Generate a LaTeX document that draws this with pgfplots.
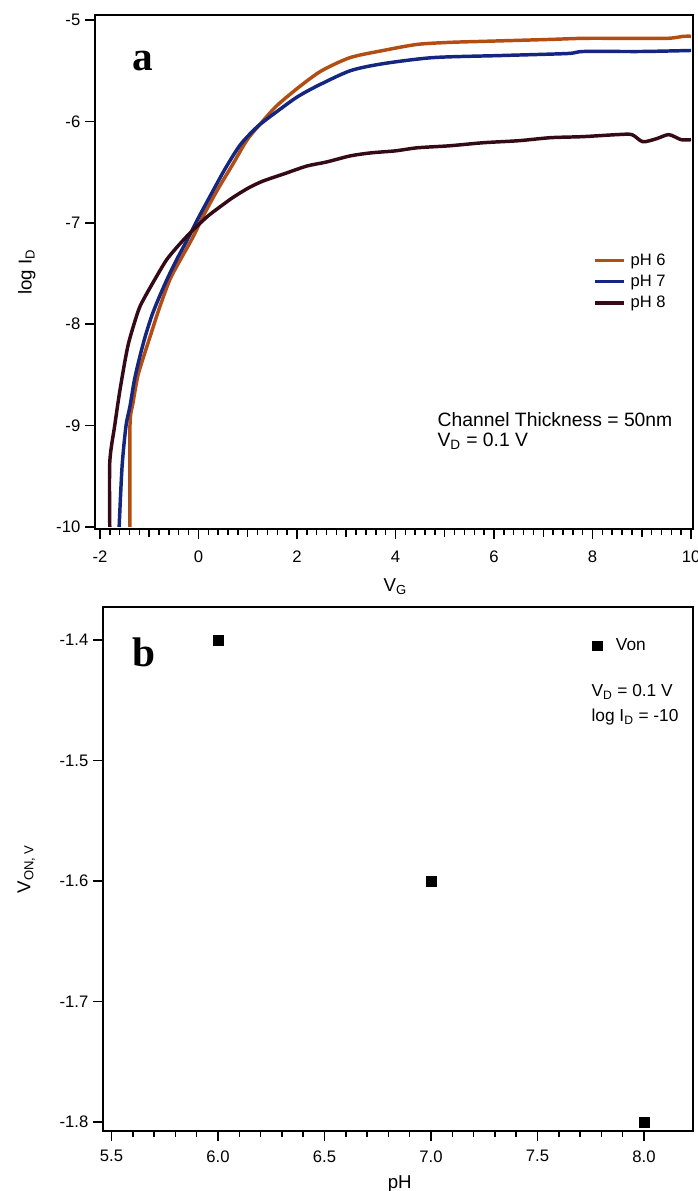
\documentclass[border=0pt]{standalone}
\usepackage{pgfplots}
\pgfplotsset{compat=1.18}
\usepackage{fontspec}
\setmainfont{Liberation Sans}
\newfontfamily\panelfont{Liberation Serif}

\definecolor{ph6}{RGB}{178,78,20}
\definecolor{ph7}{RGB}{20,38,128}
\definecolor{ph8}{RGB}{52,10,22}

\pgfplotsset{
  panel/.style={
    scale only axis,
    clip=false,
    axis line style={line width=1.4pt},
    tick align=outside,
    xtick pos=left, ytick pos=left,
    major tick length=7.5pt,
    minor tick length=4.5pt,
    every tick/.style={black, line width=1.1pt},
    /pgf/number format/assume math mode=true,
    tick label style={font=\fontsize{12.5}{14}\selectfont},
    label style={font=\fontsize{14}{16}\selectfont},
    legend cell align=left,
  },
  curve/.style={line width=2.6pt, smooth, tension=0.45},
}

\begin{document}
\begin{tikzpicture}
\useasboundingbox (0pt,0pt) rectangle (523.5pt,-893.25pt);

% (a) transfer curves
\begin{axis}[panel,
  at={(71.25pt,-11.25pt)}, anchor=north west,
  width=448.5pt, height=385.5pt,
  xmin=-2.1, xmax=10.04, ymin=-10.02, ymax=-4.95,
  xtick={-2,0,2,4,6,8,10}, minor x tick num=9,
  extra x ticks={-1,1,3,5,7,9}, extra x tick labels={},
  extra x tick style={major tick length=6pt},
  xticklabel style={yshift=-5.5pt},
  ytick={-10,-9,-8,-7,-6,-5},
  xlabel={V\textsubscript{G}}, ylabel={log I\textsubscript{D}},
  xlabel style={at={(axis description cs:0.502,-0.112)}, anchor=center},
  ylabel style={at={(axis description cs:-0.114,0.5)}, anchor=center},
  legend style={at={(0.833,0.537)}, anchor=north west, draw=none, fill=none,
    inner sep=0pt, font=\fontsize{12.4}{14}\selectfont, row sep=4.5pt,
    nodes={inner sep=0.6pt}},
  /tikz/every odd column/.append style={column sep=3pt},
  legend image code/.code={\draw[#1, line width=2.4pt] (0pt,0pt) -- (22pt,0pt);},
]
\addplot[ph6, curve] coordinates {
(-1.39,-10) (-1.39,-9.0) (-1.33,-8.78) (-1.23,-8.51) (-1.10,-8.30) (-0.98,-8.12)
(-0.80,-7.85) (-0.58,-7.56) (-0.35,-7.35) (-0.11,-7.14) (0.10,-6.93) (0.38,-6.68)
(0.70,-6.42) (0.99,-6.18) (1.30,-6.00) (1.60,-5.84) (2.07,-5.65) (2.50,-5.50)
(3.08,-5.37) (3.75,-5.30) (4.44,-5.24) (5.10,-5.22) (5.78,-5.21) (6.50,-5.20)
(7.20,-5.19) (7.82,-5.18) (8.60,-5.18) (9.52,-5.18) (9.85,-5.16) (10,-5.16)};
\addlegendentry{pH 6}
\addplot[ph7, curve] coordinates {
(-1.61,-10) (-1.55,-9.4) (-1.47,-9.0) (-1.39,-8.81) (-1.30,-8.55) (-1.19,-8.32)
(-1.08,-8.12) (-0.95,-7.92) (-0.82,-7.76) (-0.64,-7.56) (-0.45,-7.37) (-0.23,-7.17)
(0.00,-6.95) (0.30,-6.68) (0.55,-6.46) (0.85,-6.23) (1.20,-6.05) (1.60,-5.90)
(2.00,-5.76) (2.41,-5.65) (3.08,-5.50) (3.75,-5.43) (4.77,-5.37) (6.13,-5.35)
(7.49,-5.33) (7.82,-5.31) (9.00,-5.31) (10,-5.30)};
\addlegendentry{pH 7}
\addplot[ph8, curve] coordinates {
(-1.80,-10) (-1.80,-9.36) (-1.70,-9.0) (-1.59,-8.64) (-1.43,-8.21) (-1.23,-7.88)
(-1.12,-7.76) (-0.84,-7.52) (-0.64,-7.36) (-0.40,-7.22) (-0.13,-7.08) (0.20,-6.93)
(0.50,-6.82) (0.70,-6.75) (1.00,-6.66) (1.30,-6.59) (1.72,-6.52) (2.20,-6.44)
(2.60,-6.40) (3.08,-6.34) (3.50,-6.31) (4.00,-6.29) (4.44,-6.26) (5.10,-6.24)
(5.78,-6.21) (6.50,-6.19) (7.15,-6.16) (7.80,-6.15) (8.50,-6.13) (8.80,-6.13)
(9.02,-6.20) (9.30,-6.17) (9.55,-6.13) (9.80,-6.18) (10,-6.18)};
\addlegendentry{pH 8}
\draw[line width=2.2pt] (rel axis cs:0,1) -- (rel axis cs:0,0) -- (rel axis cs:1,0);
\node[font=\panelfont\bfseries\fontsize{31}{31}\selectfont] at (rel axis cs:0.080,0.911) {a};
\node[anchor=west, font=\fontsize{14.5}{17}\selectfont] at (rel axis cs:0.565,0.212) {Channel Thickness = 50nm};
\node[anchor=west, font=\fontsize{14.5}{17}\selectfont] at (rel axis cs:0.565,0.171) {V\textsubscript{D} = 0.1 V};
\end{axis}

% (b) onset voltage
\begin{axis}[panel,
  at={(77.25pt,-455.25pt)}, anchor=north west,
  width=442.5pt, height=393pt,
  xmin=5.46, xmax=8.23, ymin=-1.8075, ymax=-1.3726,
  xtick={5.5,6,6.5,7,7.5,8}, minor x tick num=4,
  ytick={-1.8,-1.7,-1.6,-1.5,-1.4},
  xticklabel style={yshift=-3.5pt, /pgf/number format/.cd, fixed, fixed zerofill, precision=1},
  yticklabel style={/pgf/number format/.cd, fixed, fixed zerofill, precision=1},
  xlabel={pH}, ylabel={V\textsubscript{ON, V}},
  xlabel style={at={(axis description cs:0.503,-0.102)}, anchor=center},
  ylabel style={at={(axis description cs:-0.130,0.5)}, anchor=center},
  legend style={at={(0.8237,0.926)}, anchor=west, draw=none, fill=none,
    inner sep=0pt, font=\fontsize{13}{15}\selectfont},
  legend image code/.code={\draw[draw=none] (0pt,-3pt) rectangle (18pt,3pt);
    \draw[#1, only marks] plot coordinates {(6pt,0pt)};},
]
\addplot[only marks, mark=square*, mark size=3.6pt, black] coordinates {(6,-1.4) (7,-1.6) (8,-1.8)};
\addlegendentry{Von}
\draw[line width=2.2pt] (rel axis cs:0,1) -- (rel axis cs:0,0) -- (rel axis cs:1,0);
\node[font=\panelfont\bfseries\fontsize{31}{31}\selectfont] at (rel axis cs:0.069,0.914) {b};
\node[anchor=west, font=\fontsize{13}{15}\selectfont] at (rel axis cs:0.820,0.838) {V\textsubscript{D} = 0.1 V};
\node[anchor=west, font=\fontsize{13}{15}\selectfont] at (rel axis cs:0.820,0.790) {log I\textsubscript{D} = -10};
\end{axis}
\end{tikzpicture}
\end{document}
